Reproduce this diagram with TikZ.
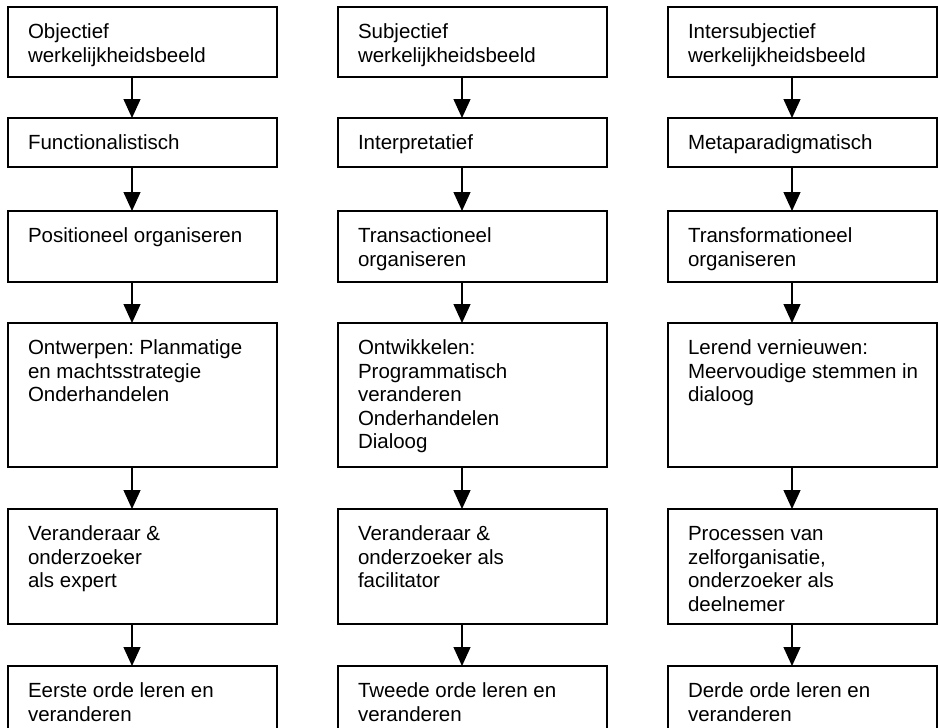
\documentclass[tikz,border=0pt]{standalone}
\usepackage{fontspec}
\setmainfont{Liberation Sans}
\frenchspacing
\usetikzlibrary{arrows.meta}
\tikzset{
  flowbox/.style={draw=black, line width=1.6pt, rectangle, inner sep=0pt, outer sep=0pt,
    minimum width=269pt, anchor=north west},
  boxtext/.style={anchor=north west, inner sep=0pt, outer sep=0pt, align=left,
    font=\fontsize{20.5}{23.5}\selectfont\frenchspacing},
  flowarrow/.style={line width=1.3pt, -{Triangle[length=19pt,width=17pt]}}
}
\begin{document}
\begin{tikzpicture}[x=1pt,y=-1pt]
\useasboundingbox (0,0) rectangle (938,728);
\clip (0,0) rectangle (938,728);
% boxes: columns at x=8, 338, 668; rows
\foreach \c/\x in {a/8,b/338,c/668}{
  \node[flowbox, minimum height=70pt]  (\c1) at (\x,7) {};
  \node[flowbox, minimum height=49pt]  (\c2) at (\x,118) {};
  \node[flowbox, minimum height=71pt]  (\c3) at (\x,211) {};
  \node[flowbox, minimum height=144pt] (\c4) at (\x,323) {};
  \node[flowbox, minimum height=115pt] (\c5) at (\x,509) {};
  \node[flowbox, minimum height=120pt] (\c6) at (\x,666) {};
}
% texts
\node[boxtext] (ta1) at ([shift={(20pt,-15.5pt)}]a1.north west) {\strut Objectief\\werkelijkheidsbeeld};
\node[boxtext] (ta2) at ([shift={(20pt,-15.5pt)}]a2.north west) {\strut Functionalistisch};
\node[boxtext] (ta3) at ([shift={(20pt,-15.5pt)}]a3.north west) {\strut Positioneel organiseren};
\node[boxtext] (ta4) at ([shift={(20pt,-15.5pt)}]a4.north west) {\strut Ontwerpen: Planmatige\\en machtsstrategie\\Onderhandelen};
\node[boxtext] (ta5) at ([shift={(20pt,-15.5pt)}]a5.north west) {\strut Veranderaar \&\\onderzoeker\\als expert};
\node[boxtext] (ta6) at ([shift={(20pt,-15.5pt)}]a6.north west) {\strut Eerste orde leren en\\veranderen};

\node[boxtext] (tb1) at ([shift={(20pt,-15.5pt)}]b1.north west) {\strut Subjectief\\werkelijkheidsbeeld};
\node[boxtext] (tb2) at ([shift={(20pt,-15.5pt)}]b2.north west) {\strut Interpretatief};
\node[boxtext] (tb3) at ([shift={(20pt,-15.5pt)}]b3.north west) {\strut Transactioneel\\organiseren};
\node[boxtext] (tb4) at ([shift={(20pt,-15.5pt)}]b4.north west) {\strut Ontwikkelen:\\Programmatisch\\veranderen\\Onderhandelen\\Dialoog};
\node[boxtext] (tb5) at ([shift={(20pt,-15.5pt)}]b5.north west) {\strut Veranderaar \&\\onderzoeker als\\facilitator};
\node[boxtext] (tb6) at ([shift={(20pt,-15.5pt)}]b6.north west) {\strut Tweede orde leren en\\veranderen};

\node[boxtext] (tc1) at ([shift={(20pt,-15.5pt)}]c1.north west) {\strut Intersubjectief\\werkelijkheidsbeeld};
\node[boxtext] (tc2) at ([shift={(20pt,-15.5pt)}]c2.north west) {\strut Metaparadigmatisch};
\node[boxtext] (tc3) at ([shift={(20pt,-15.5pt)}]c3.north west) {\strut Transformationeel\\organiseren};
\node[boxtext] (tc4) at ([shift={(20pt,-15.5pt)}]c4.north west) {\strut Lerend vernieuwen:\\Meervoudige stemmen in\\dialoog};
\node[boxtext] (tc5) at ([shift={(20pt,-15.5pt)}]c5.north west) {\strut Processen van\\zelforganisatie,\\onderzoeker als\\deelnemer};
\node[boxtext] (tc6) at ([shift={(20pt,-15.5pt)}]c6.north west) {\strut Derde orde leren en\\veranderen};
% arrows
\foreach \c in {a,b,c}{
  \foreach \i/\j in {1/2,2/3,3/4,4/5,5/6}{
    \draw[flowarrow] ([xshift=-10.5pt]\c\i.south) -- ([xshift=-10.5pt]\c\j.north);
  }
}
\end{tikzpicture}
\end{document}
